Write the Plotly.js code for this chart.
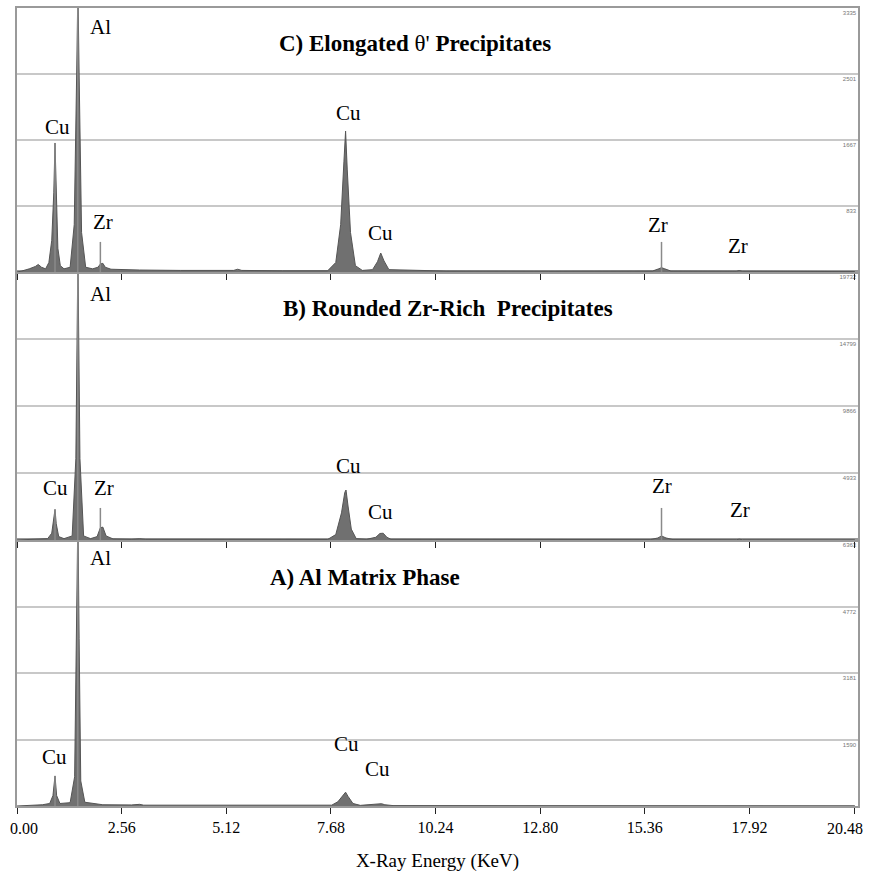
<!DOCTYPE html>
<html>
<head>
<meta charset="utf-8">
<script src="https://cdn.plot.ly/plotly-3.0.1.min.js"></script>
<style>
  html, body { margin:0; padding:0; background:#fff; }
  #chart { width:870px; height:881px; }
</style>
</head>
<body>
<div id="chart"></div>
<script>
// ---------- Data ----------
// energy in keV, counts per channel

// C) Elongated theta' precipitates
const energyC = [0.00,0.10,0.30,0.45,0.52,0.60,0.70,0.78,0.85,0.90,0.93,0.96,1.00,1.06,1.15,1.30,1.40,1.46,1.49,1.52,1.58,1.68,1.85,1.98,2.04,2.10,2.16,2.30,2.60,3.00,4.00,5.30,5.40,5.50,6.50,7.60,7.80,7.92,8.00,8.04,8.08,8.16,8.28,8.45,8.70,8.82,8.90,8.98,9.10,10.50,13.00,15.55,15.70,15.77,15.85,16.00,17.60,17.67,17.75,20.50];
const countsC = [0,10,40,70,95,60,40,120,400,1000,1630,900,300,80,40,60,600,2500,3600,2500,500,60,40,60,100,110,60,35,30,25,20,20,35,20,15,15,120,600,1400,1780,1300,500,80,20,30,130,240,140,30,12,10,12,40,55,40,12,10,18,10,5];

// B) Rounded Zr-rich precipitates
const energyB = [0.00,0.30,0.52,0.60,0.75,0.85,0.90,0.93,0.96,1.02,1.15,1.35,1.44,1.49,1.54,1.63,1.80,1.96,2.04,2.10,2.18,2.35,2.80,3.00,3.15,4.00,7.60,7.80,7.94,8.02,8.05,8.10,8.18,8.30,8.55,8.78,8.88,8.96,9.05,9.15,12.00,15.50,15.68,15.77,15.88,16.05,17.60,17.67,17.75,20.50];
const countsB = [0,30,80,50,100,500,1500,2250,1200,250,100,300,6000,21000,6000,300,100,250,900,950,300,80,50,90,50,40,40,400,2000,3500,3680,2500,800,100,50,200,480,500,200,50,30,30,150,300,150,30,20,60,20,10];

// A) Al matrix phase
const energyA = [0.00,0.30,0.52,0.62,0.80,0.88,0.93,0.97,1.05,1.30,1.41,1.46,1.49,1.52,1.56,1.66,1.95,2.10,2.80,3.00,3.10,7.70,7.85,7.98,8.04,8.10,8.22,8.40,8.85,8.92,9.00,9.20,20.50];
const countsA = [0,15,40,30,60,250,720,250,60,80,700,4000,7000,4000,600,90,40,30,25,40,20,20,100,250,330,230,60,15,40,55,30,10,5];

// element marker lines drawn by the EDS software
const markE_C = [0.93, 1.487, 2.04, 15.77];
const markH_C = [1630, 3335, 380, 380];
const markE_B = [0.93, 1.487, 2.04, 15.77];
const markH_B = [2250, 19732, 2360, 2360];
const markE_A = [0.93, 1.487];
const markH_A = [720, 6363];

// right-hand count scale of each panel
const ticksC = [833, 1667, 2501, 3335];
const ticksB = [4933, 9866, 14799, 19732];
const ticksA = [1590, 3181, 4772, 6363];

const xTicks = [0, 2.56, 5.12, 7.68, 10.24, 12.80, 15.36, 17.92, 20.48];

// ---------- Layout helpers ----------
const W = 870, H = 881;
const M = {l:17, r:12, t:8, b:75};
const plotW = W - M.l - M.r, plotH = H - M.t - M.b;
const xMax = 20.48 * plotW / (854 - 17);
const px = x => (x - M.l) / plotW;
const py = y => (H - M.b - y) / plotH;

const fillCol = '#707070';
const frameCol = '#9a9a9a';
const gridCol = '#c8c8c8';
const serif = 'Liberation Serif, Times New Roman, serif';

// the two edge labels are nudged inward (as the EDS software does) with annotations
const last = xTicks.length - 1;
const xTickText = xTicks.map((v,i)=> (i===0 || i===last) ? '' : v.toFixed(2));

function spectrum(x, y, axis){
  return {x:x, y:y, xaxis:axis[0], yaxis:axis[1], type:'scatter', mode:'lines',
          fill:'tozeroy', fillcolor:fillCol, line:{color:'#555', width:1},
          hoverinfo:'skip', showlegend:false};
}
function markers(e, h, axis){
  const xs=[], ys=[];
  e.forEach((v,i)=>{ xs.push(v, v, null); ys.push(0, h[i], null); });
  return {x:xs, y:ys, xaxis:axis[0], yaxis:axis[1], type:'scatter', mode:'lines',
          line:{color:'#8a8a8a', width:1.5}, hoverinfo:'skip', showlegend:false};
}

const data = [
  spectrum(energyA, countsA, ['x','y']),
  markers(markE_A, markH_A, ['x','y']),
  spectrum(energyB, countsB, ['x2','y2']),
  markers(markE_B, markH_B, ['x2','y2']),
  spectrum(energyC, countsC, ['x3','y3']),
  markers(markE_C, markH_C, ['x3','y3'])
];

const dA = [0, py(540)], dB = [py(540), py(272)], dC = [py(272), 1];

function yAxis(domain, max, vals, anchor){
  return {domain:domain, range:[0,max], anchor:anchor, side:'right',
          tickvals:vals, ticktext:vals.map(String), ticks:'',
          ticklabelposition:'inside', ticklabelshift:5, ticklabeloverflow:'allow',
          tickfont:{family:'Liberation Sans', size:6, color:'#777'},
          showgrid:true, gridcolor:gridCol, gridwidth:2,
          showline:true, mirror:true, linecolor:frameCol, linewidth:2,
          zeroline:false, fixedrange:true};
}
function xAxis(anchor, labels){
  return {anchor:anchor, range:[0,xMax], matches: anchor==='y' ? undefined : 'x',
          tickvals:xTicks, ticktext:xTickText, showticklabels:labels,
          ticks:'outside', ticklen:6, tickwidth:1, tickcolor:'#222',
          tickfont:{family:serif, size:16, color:'#000'},
          showgrid:false, zeroline:false,
          showline:true, mirror:true, linecolor:frameCol, linewidth:2};
}

const xa = xAxis('y', true);
xa.title = {text:'X-Ray Energy (KeV)', font:{family:serif, size:19, color:'#000'}, standoff:18};

const labelFont = {family:serif, size:21, color:'#000'};
const titleFont = {family:serif, size:23, color:'#000'};

// element label positions in pixels of the picture
const elemLabels = [
  ['Al',100,27],['Cu',57,127],['Zr',103,222],['Cu',348,113],['Cu',380,233],['Zr',658,225],['Zr',738,246],
  ['Al',100,294],['Cu',55,488],['Zr',104,488],['Cu',348,466],['Cu',380,512],['Zr',662,486],['Zr',740,510],
  ['Al',100,558],['Cu',54,757],['Cu',346,744],['Cu',377,769]
];
const panelTitles = [
  ["<b>C) Elongated </b>θ'<b> Precipitates</b>", 415, 43],
  ['<b>B) Rounded Zr-Rich  Precipitates</b>', 448, 308],
  ['<b>A) Al Matrix Phase</b>', 365, 577]
];

const annotations = elemLabels.map(([t,x,y])=>({text:t, x:px(x), y:py(y), xref:'paper', yref:'paper',
  showarrow:false, font:labelFont, xanchor:'center', yanchor:'middle'}))
  .concat(panelTitles.map(([t,x,y])=>({text:t, x:px(x), y:py(y), xref:'paper', yref:'paper',
  showarrow:false, font:titleFont, xanchor:'center', yanchor:'middle'})))
  .concat([
    {text:xTicks[0].toFixed(2), x:xTicks[0], xref:'x', y:py(828), yref:'paper', xshift:7,
     showarrow:false, font:{family:serif, size:16, color:'#000'}, xanchor:'center', yanchor:'middle'},
    {text:xTicks[last].toFixed(2), x:xTicks[last], xref:'x', y:py(828), yref:'paper', xshift:-9,
     showarrow:false, font:{family:serif, size:16, color:'#000'}, xanchor:'center', yanchor:'middle'}
  ]);

const layout = {
  width:W, height:H, margin:M,
  paper_bgcolor:'#fff', plot_bgcolor:'#fff',
  showlegend:false,
  xaxis: xa,
  xaxis2: xAxis('y2', false),
  xaxis3: xAxis('y3', false),
  yaxis: yAxis(dA, 6363, ticksA, 'x'),
  yaxis2: yAxis(dB, 19732, ticksB, 'x2'),
  yaxis3: yAxis(dC, 3335, ticksC, 'x3'),
  annotations: annotations
};

Plotly.newPlot('chart', data, layout, {staticPlot:true});
</script>
</body>
</html>
